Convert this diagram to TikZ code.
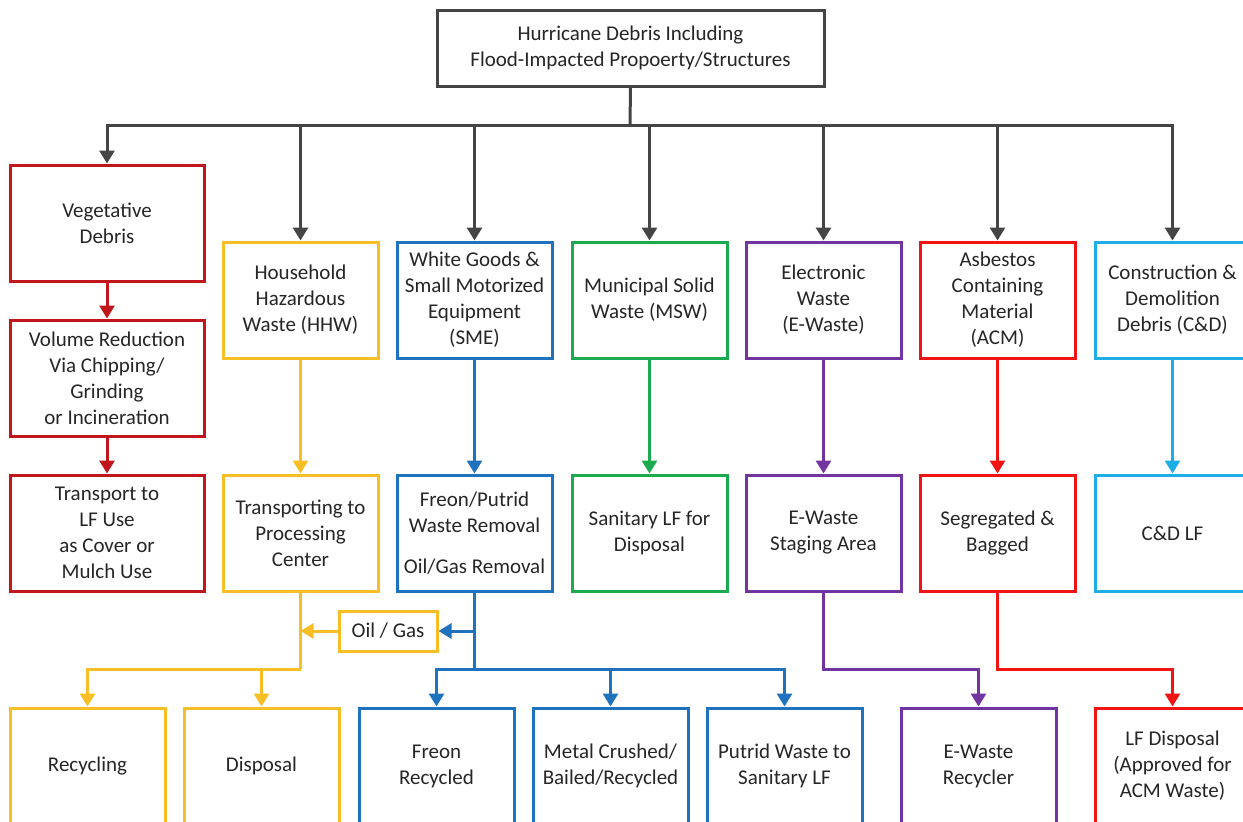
\documentclass[tikz,border=0pt]{standalone}
\usepackage{fontspec}
\setmainfont{Carlito}
\usetikzlibrary{arrows.meta}
\definecolor{hgray}{HTML}{454545}
\definecolor{vegred}{HTML}{C0161C}
\definecolor{hhwyel}{HTML}{F7BE26}
\definecolor{smeblue}{HTML}{1F72BE}
\definecolor{mswgreen}{HTML}{1BAA50}
\definecolor{ewpurple}{HTML}{7134A0}
\definecolor{acmred}{HTML}{F01414}
\definecolor{cdblue}{HTML}{1DAEE8}
\begin{document}
\begin{tikzpicture}[x=1pt,y=-1pt,>={Triangle[width=15pt,length=13pt]}]
        \tikzstyle{box}=[rectangle,draw,line width=3pt,fill=white,align=center,text=black!85,font=\fontsize{21}{26}\selectfont,minimum width=155pt,minimum height=116pt,inner sep=2pt]
        \tikzstyle{edge}=[draw,line width=3pt]
        \useasboundingbox (0,0) rectangle (1243,822);
        \clip (0,0) rectangle (1243,822);
       \begin{scope}
         % top
         \node [box,draw=hgray,minimum width=387pt,minimum height=76pt] (top) at (630.5,48) {Hurricane Debris Including\\Flood-Impacted Propoerty/Structures};
         \coordinate (bus) at (630,125);
         % vegetative column
         \node [box,draw=vegred,minimum width=194pt] (veg) at (107,223) {Vegetative\\Debris};
         \node [box,draw=vegred,minimum width=194pt] (vol) at (107,378) {Volume Reduction\\Via Chipping/\\Grinding\\or Incineration};
         \node [box,draw=vegred,minimum width=194pt] (cover) at (107,533) {Transport to\\LF Use\\as Cover or\\Mulch Use};
         % second row
         \node [box,draw=hhwyel] (hhw) at (300.5,300) {Household\\Hazardous\\Waste (HHW)};
         \node [box,draw=smeblue] (sme) at (474.5,300) {White Goods \&\\Small Motorized\\Equipment\\(SME)};
         \node [box,draw=mswgreen] (msw) at (649.5,300) {Municipal Solid\\Waste (MSW)};
         \node [box,draw=ewpurple] (ew) at (823.5,300) {Electronic\\Waste\\(E-Waste)};
         \node [box,draw=acmred] (acm) at (997.5,300) {Asbestos\\Containing\\Material\\(ACM)};
         \node [box,draw=cdblue] (cd) at (1172.5,300) {Construction \&\\Demolition\\Debris (C\&D)};
         % third row
         \node [box,draw=hhwyel] (proc) at (300.5,533) {Transporting to\\Processing\\Center};
         \node [box,draw=smeblue] (freon) at (474.5,533) {Freon/Putrid\\Waste Removal\\[15pt]Oil/Gas Removal};
         \node [box,draw=mswgreen] (sanlf) at (649.5,533) {Sanitary LF for\\Disposal};
         \node [box,draw=ewpurple] (ewstage) at (823.5,533) {E-Waste\\Staging Area};
         \node [box,draw=acmred] (bag) at (997.5,533) {Segregated \&\\Bagged};
         \node [box,draw=cdblue] (cdlf) at (1172.5,533) {C\&D LF};
         \node [box,draw=hhwyel,minimum width=98pt,minimum height=40pt] (oil) at (388,631) {Oil / Gas};
         % bottom row
         \node [box,draw=hhwyel] (recyc) at (87.5,766) {Recycling};
         \node [box,draw=hhwyel] (disp) at (261.5,766) {Disposal};
         \node [box,draw=smeblue] (frec) at (436.5,766) {Freon\\Recycled};
         \node [box,draw=smeblue] (metal) at (610.5,766) {Metal Crushed/\\Bailed/Recycled};
         \node [box,draw=smeblue] (putrid) at (784.5,766) {Putrid Waste to\\Sanitary LF};
         \node [box,draw=ewpurple] (ewrec) at (978.5,766) {E-Waste\\Recycler};
         \node [box,draw=acmred] (acmlf) at (1172.5,766) {LF Disposal\\(Approved for\\ACM Waste)};
         \coordinate (yj) at (300.5,669);
         \coordinate (bj) at (474.5,669);
         \coordinate (pj) at (823.5,669);
         \coordinate (rj) at (997.5,669);
         % connectors
         \path[edge,hgray] (top.south) -- (bus);
         \foreach \n in {veg,hhw,sme,msw,ew,acm,cd}
           \path[edge,hgray,->] (bus) -| (\n.north);
         \path[edge,vegred,->] (veg) -- (vol);
         \path[edge,vegred,->] (vol) -- (cover);
         \path[edge,hhwyel,->] (hhw) -- (proc);
         \path[edge,smeblue,->] (sme) -- (freon);
         \path[edge,mswgreen,->] (msw) -- (sanlf);
         \path[edge,ewpurple,->] (ew) -- (ewstage);
         \path[edge,acmred,->] (acm) -- (bag);
         \path[edge,cdblue,->] (cd) -- (cdlf);
         \path[edge,hhwyel] (proc.south) -- (yj);
         \path[edge,hhwyel,->] (yj) -| (recyc.north);
         \path[edge,hhwyel,->] (yj) -| (disp.north);
         \path[edge,hhwyel,->] (oil.west) -- (oil.west -| proc.south);
         \path[edge,smeblue] (freon.south) -- (bj);
         \path[edge,smeblue,->] (oil.east -| freon.south) -- (oil.east);
         \path[edge,smeblue,->] (bj) -| (frec.north);
         \path[edge,smeblue,->] (bj) -| (metal.north);
         \path[edge,smeblue,->] (bj) -| (putrid.north);
         \path[edge,ewpurple,->] (ewstage.south) -- (pj) -| (ewrec.north);
         \path[edge,acmred,->] (bag.south) -- (rj) -| (acmlf.north);
        \end{scope}
      \end{tikzpicture}
\end{document}
